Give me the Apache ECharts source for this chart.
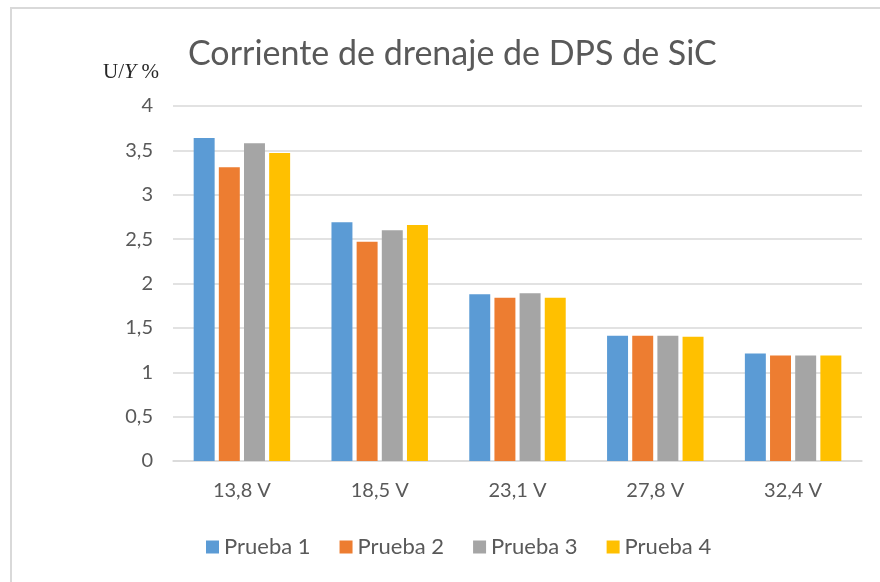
<!DOCTYPE html>
<html>
<head>
<meta charset="utf-8">
<script src="https://cdn.jsdelivr.net/npm/echarts@6/dist/echarts.min.js"></script>
<style>
  html, body { margin: 0; padding: 0; background: #fff; }
  #chart { width: 880px; height: 582px; }
  #frame { position: absolute; left: 10px; top: 7px; right: 0; bottom: 0;
           border-top: 2px solid #d9d9d9; border-left: 2px solid #d9d9d9; }
</style>
</head>
<body>
<div id="frame"></div>
<div id="chart" style="position:absolute;left:0;top:0;"></div>
<script>
// Drain current of SiC surge protectors at each test voltage
const categories = ['13,8 V', '18,5 V', '23,1 V', '27,8 V', '32,4 V'];
const seriesNames = ['Prueba 1', 'Prueba 2', 'Prueba 3', 'Prueba 4'];
const prueba1 = [3.64, 2.69, 1.88, 1.41, 1.21];
const prueba2 = [3.31, 2.47, 1.84, 1.41, 1.19];
const prueba3 = [3.58, 2.60, 1.89, 1.41, 1.19];
const prueba4 = [3.47, 2.66, 1.84, 1.40, 1.19];
const yTicks = [0, 0.5, 1, 1.5, 2, 2.5, 3, 3.5, 4];

const colors = ['#5B9BD5', '#ED7D31', '#A5A5A5', '#FFC000'];
const values = [prueba1, prueba2, prueba3, prueba4];
const font = 'Lato, "Open Sans", sans-serif';

const chart = echarts.init(document.getElementById('chart'), null, { renderer: 'canvas' });
chart.setOption({
  backgroundColor: 'transparent',
  animation: false,
  color: colors,
  title: [{
    text: 'Corriente de drenaje de DPS de SiC',
    left: 183, top: 32,
    textStyle: { fontFamily: font, fontSize: 34, fontWeight: 'normal', color: '#595959' }
  }, {
    text: '{u|U/}{y|Y}{u| %}',
    left: 98, top: 56,
    textStyle: {
      fontWeight: 'normal',
      rich: {
        u: { fontFamily: '"Liberation Serif", serif', fontSize: 21, fontWeight: 'normal', color: '#262626' },
        y: { fontFamily: '"Liberation Serif", serif', fontStyle: 'italic', fontWeight: 'normal', fontSize: 22, color: '#262626' }
      }
    }
  }],
  legend: {
    data: seriesNames,
    left: 201, top: 531,
    itemWidth: 13, itemHeight: 13, itemGap: 29,
    icon: 'rect',
    textStyle: { fontFamily: font, fontSize: 22, color: '#595959' }
  },
  grid: { left: 173, right: 18, top: 106, bottom: 121, containLabel: false },
  xAxis: {
    type: 'category',
    data: categories,
    axisLine: { lineStyle: { color: '#d9d9d9', width: 1.5 } },
    axisTick: { show: false },
    axisLabel: { fontFamily: font, fontSize: 20, color: '#595959', margin: 20 }
  },
  yAxis: {
    type: 'value',
    min: yTicks[0], max: yTicks[yTicks.length - 1], interval: 0.5,
    axisLine: { show: false },
    axisTick: { show: false },
    splitLine: { lineStyle: { color: '#d9d9d9', width: 1.5 } },
    axisLabel: {
      fontFamily: font, fontSize: 20, color: '#595959', margin: 20,
      formatter: v => String(v).replace('.', ',')
    }
  },
  series: seriesNames.map((name, i) => ({
    name,
    type: 'bar',
    data: values[i],
    barGap: '20%',
    barCategoryGap: '30%',
    itemStyle: { color: colors[i] }
  }))
});
</script>
</body>
</html>
